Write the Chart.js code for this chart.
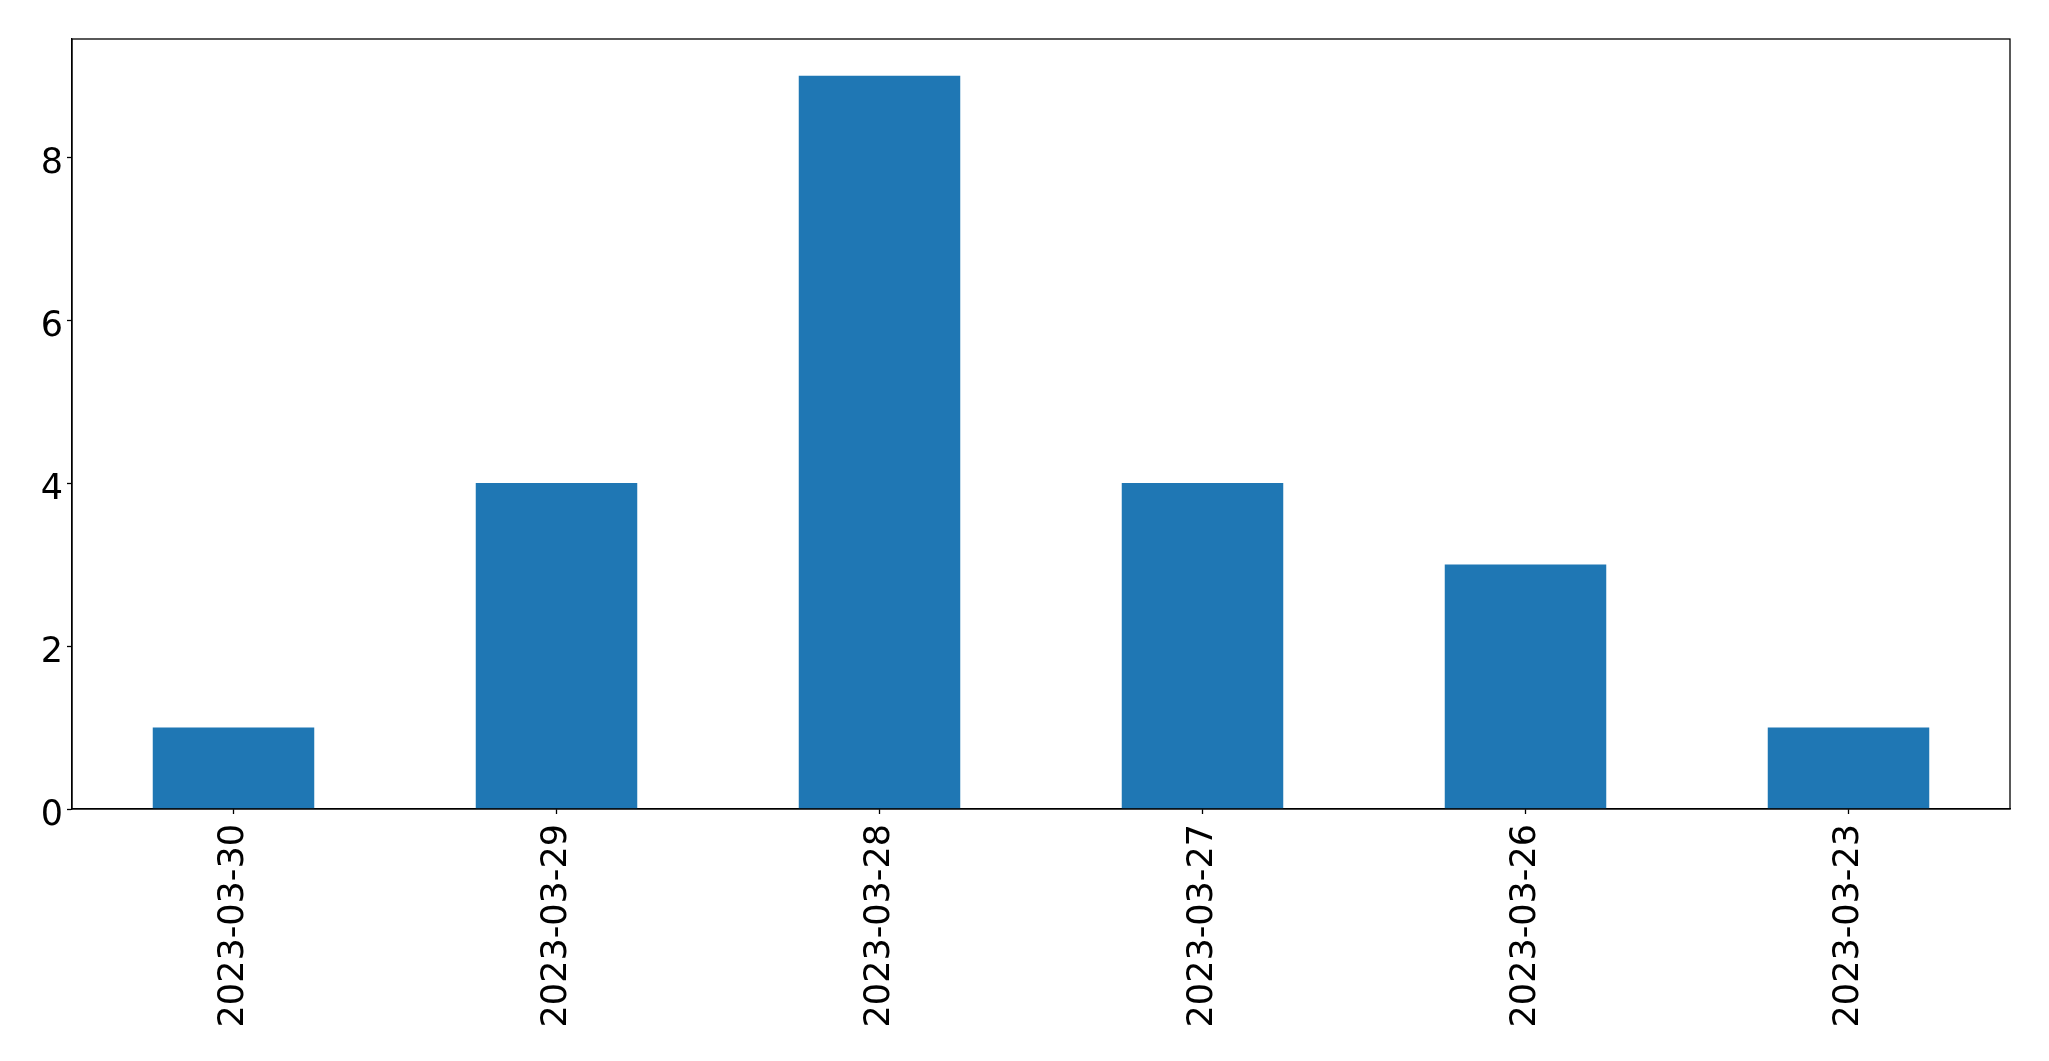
<!DOCTYPE html>
<html lang="en">
<head>
    <meta charset="UTF-8">
    <title>Counts per day</title>
    <script src="https://cdn.jsdelivr.net/npm/chart.js"></script>
    <style>
        body { margin: 0; background: #fff; }
        #wrap { width: 2049px; height: 1061px; }
    </style>
</head>
<body>

<div id="wrap">
    <canvas id="chart" width="2049" height="1061"></canvas>
</div>

<script>
    // data
    var dates = ['2023-03-30', '2023-03-29', '2023-03-28', '2023-03-27', '2023-03-26', '2023-03-23'];
    var counts = [1, 4, 9, 4, 3, 1];
    var yTicks = [0, 2, 4, 6, 8];

    // box round the plot area + y tick labels placed like matplotlib does
    var frame = {
        id: 'frame',
        afterDraw: function (chart) {
            var a = chart.chartArea;
            var ctx = chart.ctx;
            var y = chart.scales.y;
            ctx.save();
            ctx.strokeStyle = '#000';
            ctx.lineWidth = 1.3;
            ctx.strokeRect(a.left, a.top, a.right - a.left, a.bottom - a.top);

            ctx.fillStyle = '#000';
            ctx.font = '35px "DejaVu Sans"';
            ctx.textAlign = 'right';
            ctx.textBaseline = 'alphabetic';
            yTicks.forEach(function (v) {
                ctx.fillText(String(v), a.left - 9, y.getPixelForValue(v) + 16);
            });
            ctx.restore();
        }
    };

    var ctx = document.getElementById('chart').getContext('2d');
    new Chart(ctx, {
        type: 'bar',
        data: {
            labels: dates,
            datasets: [{
                data: counts,
                backgroundColor: '#1f77b4',
                borderWidth: 0,
                categoryPercentage: 1.0,
                barPercentage: 0.5
            }]
        },
        options: {
            responsive: false,
            devicePixelRatio: 1,
            animation: false,
            layout: { padding: { top: 39, right: 39, left: 0, bottom: 0 } },
            plugins: {
                legend: { display: false },
                tooltip: { enabled: false }
            },
            scales: {
                x: {
                    offset: true,
                    grid: {
                        offset: false,
                        drawOnChartArea: false,
                        drawTicks: true,
                        tickLength: 5,
                        tickWidth: 1.3,
                        tickColor: '#000'
                    },
                    border: { color: '#000', width: 1.3 },
                    ticks: {
                        autoSkip: false,
                        minRotation: 90,
                        maxRotation: 90,
                        padding: 10,
                        color: '#000',
                        font: { family: 'DejaVu Sans', size: 35 }
                    },
                    afterFit: function (scale) { scale.height = 252; }
                },
                y: {
                    min: 0,
                    max: 9.45,
                    grid: {
                        drawOnChartArea: false,
                        drawTicks: true,
                        tickLength: 5,
                        tickWidth: 1.3,
                        tickColor: '#000'
                    },
                    border: { color: '#000', width: 1.3 },
                    ticks: {
                        stepSize: 2,
                        color: 'rgba(0,0,0,0)',
                        font: { family: 'DejaVu Sans', size: 35 }
                    },
                    afterBuildTicks: function (scale) {
                        scale.ticks = yTicks.map(function (v) { return { value: v }; });
                    },
                    afterFit: function (scale) { scale.width = 72; }
                }
            }
        },
        plugins: [frame]
    });
</script>

</body>
</html>
